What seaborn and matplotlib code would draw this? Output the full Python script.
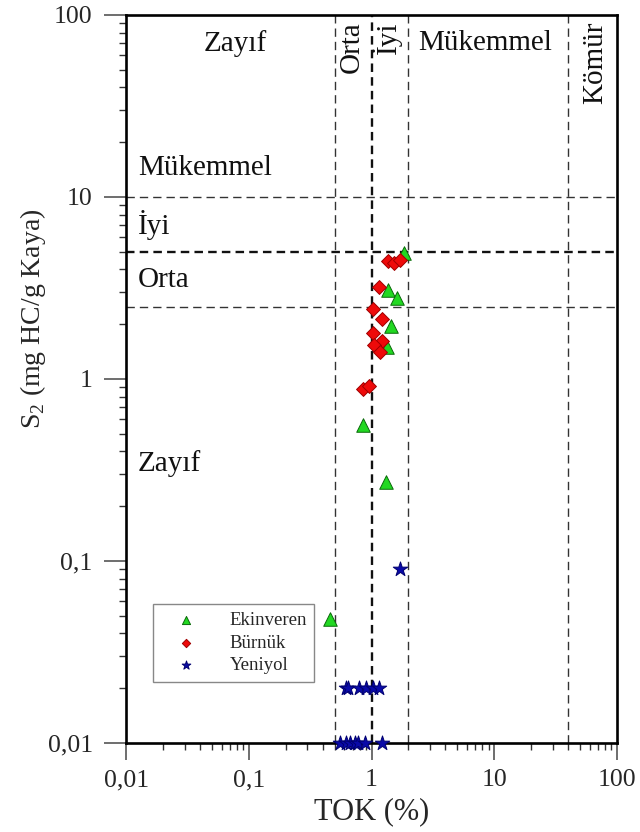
import matplotlib
matplotlib.use("Agg")
import matplotlib.pyplot as plt
from matplotlib.ticker import FixedLocator, FixedFormatter, LogLocator, NullFormatter
import seaborn as sns
import pandas as pd

# TOK (%) and S2 (mg HC/g Kaya) per locality
ekinveren_tok = [1.85, 1.35, 1.62, 1.45, 1.33, 0.85, 1.30, 0.46]
ekinveren_s2 = [4.9, 3.1, 2.8, 1.95, 1.5, 0.56, 0.27, 0.048]

burnuk_tok = [1.37, 1.52, 1.71, 1.14, 1.02, 1.21, 1.03, 1.21, 1.05, 1.17, 0.85, 0.96]
burnuk_s2 = [4.47, 4.36, 4.5, 3.19, 2.43, 2.14, 1.78, 1.62, 1.54, 1.41, 0.88, 0.91]

yeniyol_tok = [1.71, 0.62, 0.64, 0.79, 0.90, 1.02, 1.15,
               0.55, 0.62, 0.67, 0.74, 0.78, 0.88, 1.22]
yeniyol_s2 = [0.09, 0.02, 0.02, 0.02, 0.02, 0.02, 0.02,
              0.01, 0.01, 0.01, 0.01, 0.01, 0.01, 0.01]

localities = ["Ekinveren", "Bürnük", "Yeniyol"]

# class boundaries
tok_limits = [0.5, 1, 2, 40]
s2_limits = [2.5, 5, 10]

tick_values = [0.01, 0.1, 1, 10, 100]
tick_labels = ["0,01", "0,1", "1", "10", "100"]

df = pd.concat([
    pd.DataFrame({"TOK": ekinveren_tok, "S2": ekinveren_s2, "Lokasyon": localities[0]}),
    pd.DataFrame({"TOK": burnuk_tok, "S2": burnuk_s2, "Lokasyon": localities[1]}),
    pd.DataFrame({"TOK": yeniyol_tok, "S2": yeniyol_s2, "Lokasyon": localities[2]}),
], ignore_index=True)

sns.set_style("white")
plt.rcParams["font.family"] = ["Liberation Serif", "DejaVu Serif"]
plt.rcParams["mathtext.fontset"] = "custom"
plt.rcParams["mathtext.rm"] = "Liberation Serif"

fig = plt.figure(figsize=(6.4, 8.32), dpi=100)
ax = fig.add_axes([0.197, 0.107, 0.767, 0.875])
ax.set_xscale("log")
ax.set_yscale("log")
ax.set_xlim(0.01, 100)
ax.set_ylim(0.01, 100)

# class boundary lines
for v in tok_limits:
    bold = v == 1
    ax.axvline(v, color="#111111" if bold else "#333333",
               lw=1.7 if bold else 1.0,
               dashes=(3.6, 2.2) if bold else (6, 3.6), zorder=1)
for v in s2_limits:
    bold = v == 5
    ax.axhline(v, color="#111111" if bold else "#333333",
               lw=1.7 if bold else 1.0,
               dashes=(3.6, 2.2) if bold else (6, 3.6), zorder=1)

styles = {
    "Ekinveren": dict(marker="^", s=95, color="#22d822", edgecolor="#0a6a0a"),
    "Bürnük": dict(marker="D", s=50, color="#ee0a0a", edgecolor="#a00000"),
    "Yeniyol": dict(marker="*", s=120, color="#0a0aa8", edgecolor="#000070"),
}
for name in localities:
    st = styles[name]
    sns.scatterplot(data=df[df["Lokasyon"] == name], x="TOK", y="S2",
                    marker=st["marker"], s=st["s"], color=st["color"],
                    edgecolor=st["edgecolor"], linewidth=0.7,
                    label=name, ax=ax, zorder=4, clip_on=False)

# class names
txt = dict(fontsize=21, color="#111111")
ax.text(0.077, 70, "Zayıf", ha="center", va="center", **txt)
ax.text(8.4, 70, "Mükemmel", ha="center", va="center", **txt)
ax.text(0.69, 92, "Orta", ha="center", va="top", rotation=90, **txt)
ax.text(1.33, 92, "İyi", ha="center", va="top", rotation=90, **txt)
ax.text(66, 92, "Kömür", ha="center", va="top", rotation=90, **txt)
ax.text(0.0125, 14.4, "Mükemmel", ha="left", va="center", **txt)
ax.text(0.0125, 7.0, "İyi", ha="left", va="center", **txt)
ax.text(0.0125, 3.5, "Orta", ha="left", va="center", **txt)
ax.text(0.0125, 0.345, "Zayıf", ha="left", va="center", **txt)

# axes, ticks
for axis in (ax.xaxis, ax.yaxis):
    axis.set_major_locator(FixedLocator(tick_values))
    axis.set_major_formatter(FixedFormatter(tick_labels))
    axis.set_minor_locator(LogLocator(base=10, subs=range(2, 10)))
    axis.set_minor_formatter(NullFormatter())

ax.tick_params(axis="both", which="major", direction="out", labelsize=18.5,
               color="#555555", width=1.2, bottom=True, left=True, top=False, right=False)
ax.tick_params(axis="x", which="major", length=12, pad=7)
ax.tick_params(axis="y", which="major", length=16, pad=8)
ax.tick_params(axis="both", which="minor", direction="out", length=5,
               color="#333333", width=1.0, bottom=True, left=True, top=False, right=False)

for sp in ax.spines.values():
    sp.set_visible(True)
    sp.set_color("black")
    sp.set_linewidth(1.9)
    sp.set_zorder(3)

ax.set_xlabel("TOK (%)", fontsize=22, labelpad=4)
ax.set_ylabel("S$_{2}$ (mg HC/g Kaya)", fontsize=20)
ax.yaxis.set_label_coords(-0.16, 0.582)

leg = ax.legend(loc="lower left", bbox_to_anchor=(0.054, 0.084), borderaxespad=0,
                fontsize=13.5, markerscale=0.6, handlelength=2.8, handletextpad=0.9,
                borderpad=0.4, labelspacing=0.3, frameon=True, fancybox=False,
                framealpha=1, edgecolor="#888888")
leg.get_frame().set_linewidth(1.0)

fig.savefig("out.png", dpi=100)
